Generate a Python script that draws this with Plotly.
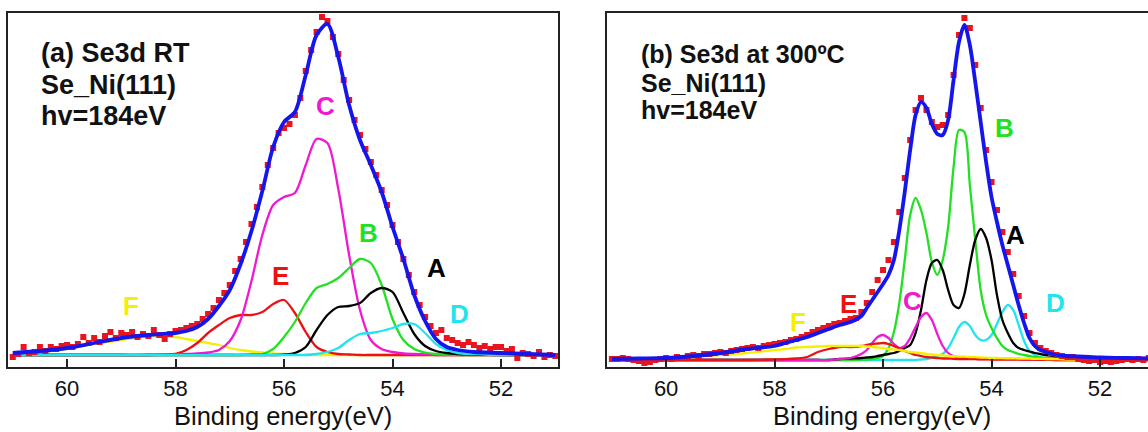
import plotly.graph_objects as go

# ---------------- data ----------------
# Panel (a): Se3d RT   -- measured spectrum (red squares)
energy_a_data = [61.0, 60.9, 60.8, 60.7, 60.6, 60.5, 60.4, 60.3, 60.2, 60.1,
                 60.0, 59.9, 59.8, 59.7, 59.6, 59.5, 59.4, 59.3, 59.2, 59.1,
                 59.0, 58.9, 58.8, 58.7, 58.6, 58.5, 58.4, 58.3, 58.2, 58.1,
                 58.0, 57.9, 57.8, 57.7, 57.6, 57.5, 57.4, 57.3, 57.2, 57.1,
                 57.0, 56.9, 56.8, 56.7, 56.6, 56.5, 56.4, 56.3, 56.2, 56.1,
                 56.0, 55.9, 55.8, 55.7, 55.6, 55.5, 55.4, 55.3, 55.2, 55.1,
                 55.0, 54.9, 54.8, 54.7, 54.6, 54.5, 54.4, 54.3, 54.2, 54.1,
                 54.0, 53.9, 53.8, 53.7, 53.6, 53.5, 53.4, 53.3, 53.2, 53.1,
                 53.0, 52.9, 52.8, 52.7, 52.6, 52.5, 52.4, 52.3, 52.2, 52.1,
                 52.0, 51.9, 51.8, 51.7, 51.6, 51.5, 51.4, 51.3, 51.2, 51.1,
                 51.0]
intensity_a_data = [-2, 1, 8, 2, 3, 8, 4, 8, 6, 9,
                    10, 8, 11, 18, 12, 17, 13, 19, 23, 17,
                    22, 20, 23, 18, 21, 19, 25, 20, 16, 21,
                    24, 25, 27, 29, 31, 36, 41, 47, 55, 62,
                    70, 84, 96, 113, 131, 148, 168, 190, 207, 222,
                    227, 231, 240, 257, 284, 305, 323, 338, 334, 318,
                    301, 275, 255, 235, 220, 206, 193, 180, 165, 150,
                    130, 113, 96, 80, 63, 50, 38, 29, 22, 25,
                    17, 15, 12, 10, 13, 10, 7, 9, 6, 8,
                    8, 4, 6, -3, 2, 1, -1, 3, -2, 0,
                    -1]

# Panel (a): fit envelope and components A-F
energy_a_fit = [61.0, 60.5, 60.0, 59.5, 59.0, 58.5, 58.0, 57.8, 57.6, 57.4,
                57.2, 57.0, 56.8, 56.6, 56.4, 56.2, 56.0, 55.8, 55.6, 55.4,
                55.2, 55.0, 54.8, 54.6, 54.4, 54.2, 54.0, 53.8, 53.6, 53.4,
                53.2, 53.0, 52.8, 52.5, 52.0, 51.5, 51.0]
fit_a = [2, 4, 7, 12, 17, 20, 22, 24, 28, 36,
         49, 65, 91, 124, 164, 208, 233, 243, 280, 320,
         331, 298, 250, 215, 190, 163, 128, 96, 60, 34,
         16, 8, 5, 3, 2, 1, 0]
comp_a_A = [0, 0, 0, 0, 0, 0, 0, 0, 0, 0,
            0, 0, 0, 0, 0, 0, 0.5, 2, 8, 25,
            40, 48, 49, 52, 62, 67, 63, 42, 21, 9,
            4, 2, 1, 0.5, 0, 0, 0]
comp_a_B = [0, 0, 0, 0, 0, 0, 0, 0, 0, 0,
            0, 0, 0, 0.5, 1, 6, 18, 33, 52, 67,
            71, 77, 87, 96, 92, 70, 36, 15, 6, 2.5,
            1, 0.5, 0, 0, 0, 0, 0]
comp_a_C = [0, 0, 0, 0, 0, 0, 0.5, 1, 1.5, 2.5,
            5, 14, 35, 74, 120, 150, 158, 162, 190, 216,
            212, 166, 100, 45, 15, 6, 3, 1.5, 1, 0.5,
            0, 0, 0, 0, 0, 0, 0]
comp_a_D = [0, 0, 0, 0, 0, 0, 0, 0, 0, 0,
            0, 0, 0, 0, 0, 0, 0, 0, 0, 1,
            3, 7, 15, 21, 22, 24, 27, 31, 31, 22,
            11, 5, 2, 1, 0, 0, 0]
comp_a_E = [0, 0, 0, 0, 0, 0, 1, 5, 12, 22,
            30, 37, 40, 40, 43, 51, 55, 42, 23, 8,
            3, 1, 0.5, 0, 0, 0, 0, 0, 0, 0,
            0, 0, 0, 0, 0, 0, 0]
comp_a_F = [1, 3, 6, 11, 15, 18.5, 18, 16, 14, 12,
            10, 7, 5, 3.5, 2.5, 1.5, 1, 0.5, 0.3, 0,
            0, 0, 0, 0, 0, 0, 0, 0, 0, 0,
            0, 0, 0, 0, 0, 0, 0]

# Panel (b): Se3d at 300 C -- measured spectrum
energy_b_data = list(energy_a_data)
intensity_b_data = [1, 1, 2, 1, 0, -1, -3, -2, 0, 1,
                    2, 1, 3, 2, 4, 5, 4, 6, 6, 7,
                    8, 7, 9, 10, 11, 12, 13, 12, 14, 15,
                    16, 17, 18, 20, 21, 23, 25, 28, 30, 32,
                    34, 36, 37, 39, 41, 42, 48, 57, 68, 80,
                    90, 100, 118, 148, 182, 220, 250, 262, 250, 238,
                    233, 235, 245, 285, 325, 342, 332, 295, 252, 210,
                    178, 150, 128, 108, 86, 64, 44, 27, 17, 12,
                    9, 7, 5, 4, 3, 3, 1, 0, -1, 0,
                    -2, -1, -2, -1, 0, 1, 0, 1, 0, 2,
                    1]

energy_b_fit = [61.0, 60.5, 60.0, 59.5, 59.0, 58.5, 58.0, 57.8, 57.6, 57.4,
                57.2, 57.0, 56.8, 56.6, 56.4, 56.3, 56.2, 56.1, 56.0, 55.9,
                55.8, 55.7, 55.6, 55.5, 55.4, 55.3, 55.2, 55.1, 55.0, 54.9,
                54.8, 54.7, 54.6, 54.5, 54.4, 54.3, 54.2, 54.1, 54.0, 53.9,
                53.8, 53.7, 53.6, 53.5, 53.4, 53.3, 53.2, 53.1, 53.0, 52.8,
                52.6, 52.4, 52.2, 52.0, 51.5, 51.0]
fit_b = [1, 1.5, 2, 4, 7, 11, 14, 17, 20, 23,
         27, 31, 35, 38, 44, 52, 60, 68, 76, 85,
         100, 130, 168, 210, 245, 258, 252, 236, 226, 225,
         240, 280, 318, 335, 315, 278, 238, 198, 163, 138,
         115, 95, 75, 55, 37, 22, 14, 10, 8, 5,
         4, 3.5, 3, 2.5, 2, 1.5]
comp_b_A = [0, 0, 0, 0, 0, 0, 0, 0, 0, 0,
            0, 0, 1, 1.5, 2, 2.5, 3, 4, 5, 6,
            7, 9, 12, 15, 27, 50, 80, 97, 100, 90,
            70, 55, 52, 66, 95, 120, 131, 122, 100, 65,
            40, 27, 17, 12, 10, 8.5, 7, 6, 5, 4,
            3.5, 3, 2.5, 2, 1.5, 1]
comp_b_B = [0, 0, 0, 0, 0, 0, 0, 0, 0, 0,
            0, 0, 0, 0, 0.5, 0.5, 1, 2, 4, 12,
            28, 57, 100, 145, 162, 150, 127, 98, 85, 100,
            133, 193, 230, 228, 175, 120, 70, 45, 32, 22,
            14, 10, 8, 6, 5, 4, 3, 2.5, 2, 1.5,
            1, 0.5, 0.5, 0, 0, 0]
comp_b_C = [0, 0, 0, 0, 0, 0, 0, 0, 0, 0,
            0, 0, 1, 2, 6, 10, 17, 23, 25, 22,
            16, 12, 14, 22, 33, 43, 47, 40, 26, 14,
            7, 4, 2.5, 2, 1.5, 1.2, 1, 1, 1, 1,
            1, 1, 1, 1, 0.5, 0.5, 0.5, 0.5, 0.5, 0,
            0, 0, 0, 0, 0, 0]
comp_b_D = [0, 0, 0, 0, 0, 0, 0, 0, 0, 0,
            0, 0, 0, 0, 0, 0, 0, 0, 0, 0,
            0, 0, 0, 0, 0, 0.5, 1, 2, 4, 6,
            12, 22, 33, 38, 34, 25, 20, 20, 25, 36,
            48, 55, 50, 35, 19, 9, 5, 3, 2, 1,
            0.5, 0, 0, 0, 0, 0]
comp_b_E = [0, 0, 0, 0, 0, 0, 0.5, 0.8, 1.5, 3,
            8, 11, 13, 13, 14, 15, 16, 16.5, 17, 16,
            14, 11.5, 9, 7, 5, 4, 3, 2.5, 2, 1.5,
            1.5, 1.2, 1, 1, 1, 0.8, 0.7, 0.6, 0.5, 0.5,
            0.5, 0.5, 0.5, 0.5, 0.5, 0.3, 0.3, 0.2, 0.2, 0,
            0, 0, 0, 0, 0, 0]
comp_b_F = [0.5, 1, 2, 3, 5, 7, 10, 11, 12.5, 13,
            13.5, 14, 14, 14, 14, 13.5, 13, 12.5, 12, 11,
            10.5, 10, 9, 8, 7.5, 7, 6, 5.5, 5, 4.5,
            4, 3.8, 3.5, 3.3, 3, 2.8, 2.5, 2.3, 2, 2,
            1.8, 1.7, 1.6, 1.5, 1.4, 1.3, 1.2, 1.1, 1, 0.8,
            0.5, 0.3, 0.2, 0, 0, 0]

tick_vals = [60, 58, 56, 54, 52]
tick_text = ["60", "58", "56", "54", "52"]

# ---------------- styling ----------------
W, H = 1148, 432
FONT = "Arial, Liberation Sans, sans-serif"
COL = {"A": "#000000", "B": "#22E022", "C": "#F018D0", "D": "#20E4EE",
       "E": "#EE1111", "F": "#F5EF00"}
DATA_COL = "#E8141E"
FIT_COL = "#1515EE"


def px(x):
    return x / W


def py(y):
    return 1 - y / H


fig = go.Figure()


def add_panel(xa, ya, e_data, i_data, e_fit, fit, comps, order):
    for k in order:
        fig.add_trace(go.Scatter(x=e_fit, y=comps[k], mode="lines",
                                 line=dict(color=COL[k], width=2.3, shape="spline", smoothing=0.8),
                                 xaxis=xa, yaxis=ya, hoverinfo="skip"))
    fig.add_trace(go.Scatter(x=e_data, y=i_data, mode="markers",
                             marker=dict(symbol="square", size=6, color=DATA_COL),
                             xaxis=xa, yaxis=ya, hoverinfo="skip"))
    fig.add_trace(go.Scatter(x=e_fit, y=fit, mode="lines",
                             line=dict(color=FIT_COL, width=3.8, shape="spline", smoothing=0.8),
                             xaxis=xa, yaxis=ya, hoverinfo="skip"))


add_panel("x", "y", energy_a_data, intensity_a_data, energy_a_fit, fit_a,
          {"A": comp_a_A, "B": comp_a_B, "C": comp_a_C, "D": comp_a_D,
           "E": comp_a_E, "F": comp_a_F}, ["F", "E", "C", "B", "A", "D"])
add_panel("x2", "y2", energy_b_data, intensity_b_data, energy_b_fit, fit_b,
          {"A": comp_b_A, "B": comp_b_B, "C": comp_b_C, "D": comp_b_D,
           "E": comp_b_E, "F": comp_b_F}, ["D", "B", "A", "C", "E", "F"])

ydom = [py(367), py(13)]
xaxis_common = dict(tickvals=tick_vals, ticktext=tick_text, ticks="inside", ticklen=8,
                    tickwidth=2, tickcolor="#222", showline=True, linecolor="#222",
                    linewidth=2, showgrid=False, zeroline=False,
                    tickfont=dict(family=FONT, size=22, color="#111"),
                    ticklabelstandoff=1)
yaxis_common = dict(showticklabels=False, ticks="", showline=True, linecolor="#222",
                    linewidth=2, showgrid=False, zeroline=False)

fig.update_layout(
    width=W, height=H, margin=dict(l=0, r=0, t=0, b=0),
    paper_bgcolor="white", plot_bgcolor="white", showlegend=False,
    xaxis=dict(domain=[px(8), px(558)], range=[61.088, 50.95], anchor="y",
               mirror=True, **xaxis_common),
    yaxis=dict(domain=ydom, range=[-12, 342], anchor="x", mirror=True, **yaxis_common),
    xaxis2=dict(domain=[px(607), 1.0], range=[61.09, 51.115], anchor="y2",
                mirror=True, **xaxis_common),
    yaxis2=dict(domain=ydom, range=[-7, 347], anchor="x2", mirror=False, **yaxis_common),
)

annotations = []


def text(x, y, s, size, color="#111", bold=True, xanchor="left", yanchor="middle"):
    annotations.append(dict(x=px(x), y=py(y), xref="paper", yref="paper", text=s,
                            showarrow=False, xanchor=xanchor, yanchor=yanchor,
                            font=dict(family=FONT, size=size, color=color,
                                      weight="bold" if bold else "normal")))


# panel headers
for i, s in enumerate(["(a) Se3d RT", "Se_Ni(111)", "hv=184eV"]):
    text(39, [53, 84.5, 116][i], s, 27)
for i, s in enumerate(["(b) Se3d at 300ºC", "Se_Ni(111)", "hv=184eV"]):
    text(639, [54, 83, 110.5][i], s, 25)

# component letters
labels_a = [("C", 325, 106), ("E", 280, 276), ("B", 368, 233), ("A", 436, 268),
            ("D", 459, 314), ("F", 131, 306)]
labels_b = [("B", 1004, 128), ("A", 1016, 235), ("D", 1055, 303), ("C", 912, 301),
            ("E", 848, 304), ("F", 798, 322)]
for k, x, y in labels_a + labels_b:
    text(x, y, k, 26, color=COL[k], xanchor="center")

# axis titles
text(283, 432, "Binding energy(eV)", 25.5, bold=False, xanchor="center", yanchor="bottom")
text(882, 432, "Binding energy(eV)", 25.5, bold=False, xanchor="center", yanchor="bottom")

fig.update_layout(annotations=annotations)

fig.write_html("out.html", config={"displayModeBar": False},
               post_script="document.body.style.margin='0';document.body.style.overflow='hidden';")
